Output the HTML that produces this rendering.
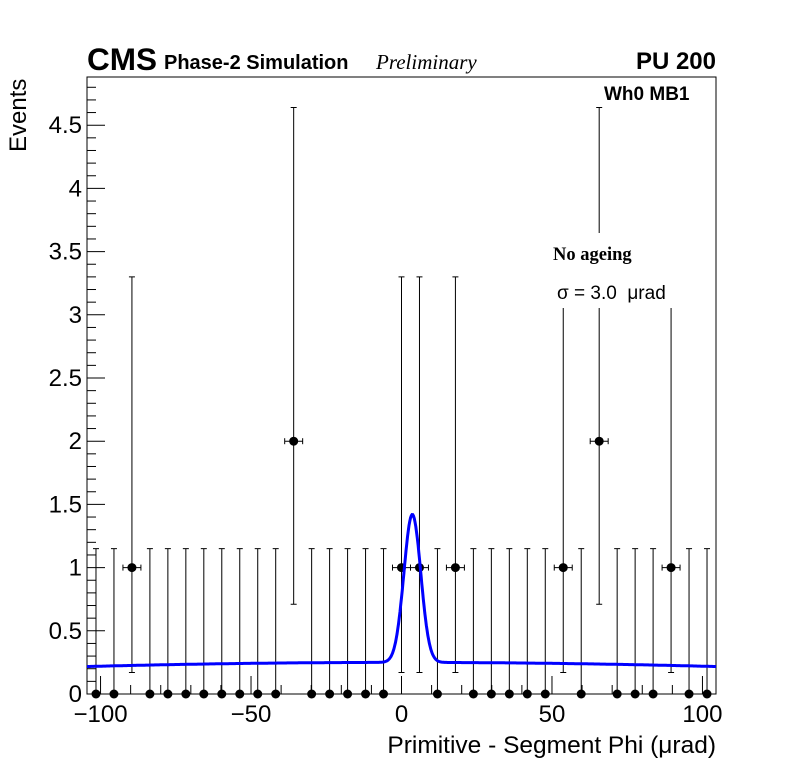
<!DOCTYPE html>
<html><head><meta charset="utf-8"><style>
html,body{margin:0;padding:0;background:#fff;}
svg{display:block;font-family:"Liberation Sans",sans-serif;}
</style></head><body>
<svg id="chart" width="796" height="772" viewBox="0 0 796 772" xmlns="http://www.w3.org/2000/svg">
<g id="grid"></g>
</svg>
<script>
const binEdgesRange = [-104.5, 104.5];
const nBins = 35;
const counts = [0,0,1,0,0,0,0,0,0,0,0,2,0,0,0,0,0,1,1,0,1,0,0,0,0,0,1,0,2,0,0,0,1,0,0];
const errLow = [0,0.83,1.29];
const errHigh = [1.15,2.3,2.64];
const fitMean = [3.6];
const fitSigma = [2.8];
const fitAmp = [1.17];
const fitBkg = [0.25, -0.000003];
const yTicks = [0,0.5,1,1.5,2,2.5,3,3.5,4,4.5];
const yTickLabels = ["0","0.5","1","1.5","2","2.5","3","3.5","4","4.5"];
const xTicks = [-100,-50,0,50,100];
const xTickLabels = ["\u2212100","\u221250","0","50","100"];

const L=87,R=716,T=77,B=694;
const X = v => L + (v - binEdgesRange[0]) / (binEdgesRange[1]-binEdgesRange[0]) * (R-L);
const Y = v => B - v * 126.4;
const svg = document.getElementById('chart');
const NS = 'http://www.w3.org/2000/svg';
function mk(tag, attrs, parent){const e=document.createElementNS(NS,tag);for(const k in attrs)e.setAttribute(k,attrs[k]);(parent||svg).appendChild(e);return e;}

let fr = mk('rect',{x:L,y:T,width:R-L,height:B-T,fill:'none',stroke:'#000','stroke-width':1});



for(let v=0; v<=4.85; v+=0.1){
  const major = Math.abs(v*2-Math.round(v*2))<1e-6;
  const t = mk('line',{x1:L,x2:L+(major?18:9),y1:Y(v),y2:Y(v),stroke:'#000'});
  
  
}
yTicks.forEach((v,i)=>{
  const t = mk('text',{x:L-5,y:Y(v)+8,'text-anchor':'end','font-size':24});
  t.textContent = yTickLabels[i];
  
  
});
for(let v=-100; v<=100; v+=10){
  const major = v%50===0;
  const t = mk('line',{x1:X(v),x2:X(v),y1:B,y2:B-(major?18:9),stroke:'#000'});
  
  
}
xTicks.forEach((v,i)=>{
  const t = mk('text',{x:X(v),y:722,'text-anchor':'middle','font-size':24});
  t.textContent = xTickLabels[i];
  
  
});

const bw = (binEdgesRange[1]-binEdgesRange[0])/nBins;
counts.forEach((c,i)=>{
  const xc = binEdgesRange[0] + (i+0.5)*bw;
  const g = mk('g',{});
  
  
  const lo = c - errLow[c], hi = c + errHigh[c];
  mk('line',{x1:X(xc),x2:X(xc),y1:Y(hi),y2:Y(lo),stroke:'#000'},g);
  mk('line',{x1:X(xc)-3,x2:X(xc)+3,y1:Y(hi),y2:Y(hi),stroke:'#000'},g);
  if(c>0){
    mk('line',{x1:X(xc)-3,x2:X(xc)+3,y1:Y(lo),y2:Y(lo),stroke:'#000'},g);
    mk('line',{x1:X(xc-bw/2),x2:X(xc+bw/2),y1:Y(c),y2:Y(c),stroke:'#000'},g);
    mk('line',{x1:X(xc-bw/2),x2:X(xc-bw/2),y1:Y(c)-3,y2:Y(c)+3,stroke:'#000'},g);
    mk('line',{x1:X(xc+bw/2),x2:X(xc+bw/2),y1:Y(c)-3,y2:Y(c)+3,stroke:'#000'},g);
  }
  mk('circle',{cx:X(xc),cy:Y(c),r:4.5,fill:'#000'},g);
});

let pts=[];
for(let x=binEdgesRange[0]; x<=binEdgesRange[1]; x+=0.25){
  const y = fitBkg[0] + fitBkg[1]*x*x + fitAmp[0]*Math.exp(-0.5*Math.pow((x-fitMean[0])/fitSigma[0],2));
  pts.push(X(x).toFixed(1)+','+Y(y).toFixed(1));
}
const fit = mk('polyline',{points:pts.join(' '),fill:'none',stroke:'#0000ff','stroke-width':3});



const box = mk('rect',{x:541,y:233,width:144,height:75,fill:'#fff'});


</script>
<svg style="position:absolute;left:0;top:0" width="796" height="772" xmlns="http://www.w3.org/2000/svg" font-family="Liberation Sans, sans-serif">
<text x="87" y="70" font-size="31.5" font-weight="bold">CMS</text>
<text x="164" y="69" font-size="20" font-weight="bold">Phase-2 Simulation</text>
<text x="376" y="69" font-size="21" font-style="italic" font-family="Liberation Serif, serif">Preliminary</text>
<text x="716" y="69" font-size="24" font-weight="bold" text-anchor="end">PU 200</text>
<text x="604" y="100" font-size="19" font-weight="bold">Wh0 MB1</text>
<text x="553" y="260" font-size="18.5" font-weight="bold" font-family="Liberation Serif, serif">No ageing</text>
<text x="557" y="299" font-size="19" xml:space="preserve" style="white-space:pre">σ = 3.0  μrad</text>
<text transform="translate(26,152) rotate(-90)" font-size="24">Events</text>
<text x="716" y="753" font-size="24.5" text-anchor="end">Primitive - Segment Phi (μrad)</text>
</svg>
</body></html>
